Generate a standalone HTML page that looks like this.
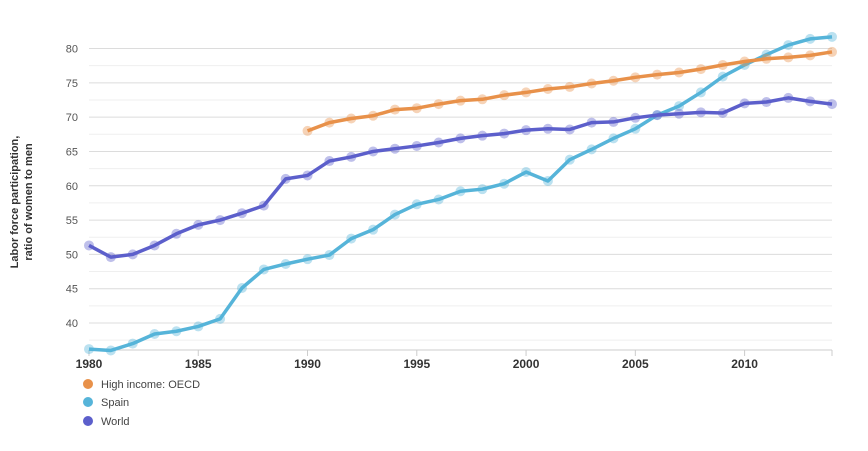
<!DOCTYPE html>
<html><head><meta charset="utf-8"><style>
body{margin:0;background:#fff;font-family:"Liberation Sans",sans-serif;}
svg text{font-family:"Liberation Sans",sans-serif;}
</style></head><body>
<svg id="chart" width="868" height="446" xmlns="http://www.w3.org/2000/svg">
<g id="grid"></g>
<g id="yticks"></g>
<g id="xticks"></g>
<text transform="translate(24,202) rotate(-90)" text-anchor="middle" font-size="11" font-weight="bold" fill="#333"><tspan x="0" dy="-6">Labor force participation,</tspan><tspan x="0" dy="14">ratio of women to men</tspan></text>
<g id="series"></g>
<g>
<g><circle cx="88" cy="384" r="5" fill="#e8914a"/><text x="101" y="388" font-size="11" fill="#444">High income: OECD</text></g>
<g><circle cx="88" cy="402" r="5" fill="#56b4d9"/><text x="101" y="406" font-size="11" fill="#444">Spain</text></g>
<g><circle cx="88" cy="421" r="5" fill="#5c5fcb"/><text x="101" y="425" font-size="11" fill="#444">World</text></g>
</g>
</svg>
<script>
const years=[];for(let y=1980;y<=2014;y++)years.push(y);
const world=[51.3,49.6,50.0,51.3,53.0,54.3,55.0,56.0,57.1,61.0,61.5,63.6,64.2,65.0,65.4,65.8,66.3,66.9,67.3,67.6,68.1,68.3,68.2,69.2,69.3,69.9,70.3,70.5,70.7,70.6,72.0,72.2,72.8,72.3,71.9];
const spain=[36.2,36.0,37.0,38.4,38.8,39.5,40.6,45.1,47.8,48.6,49.3,49.9,52.3,53.6,55.8,57.3,58.0,59.2,59.5,60.3,62.0,60.7,63.8,65.3,66.9,68.3,70.3,71.6,73.6,75.9,77.6,79.1,80.5,81.4,81.7];
const oecdYears=[];for(let y=1990;y<=2014;y++)oecdYears.push(y);
const oecd=[68.0,69.2,69.8,70.2,71.1,71.3,71.9,72.4,72.6,73.2,73.6,74.1,74.4,74.9,75.3,75.8,76.2,76.5,77.0,77.6,78.1,78.5,78.7,79.0,79.5];
const yTicks=[40,45,50,55,60,65,70,75,80];
const xTicks=[1980,1985,1990,1995,2000,2005,2010];
const NS='http://www.w3.org/2000/svg';
const X=y=>89+(y-1980)*(832-89)/34;
const Y=v=>48.5+(80-v)*(323-48.5)/40;
function mk(tag,at,parent){const e=document.createElementNS(NS,tag);for(const k in at)e.setAttribute(k,at[k]);parent.appendChild(e);return e;}
const grid=document.getElementById('grid'),yt=document.getElementById('yticks'),xt=document.getElementById('xticks'),ser=document.getElementById('series');
for(let v=37.5;v<=80;v+=2.5){const major=v%5===0;
 const l=mk('line',{x1:89,x2:832,y1:Y(v),y2:Y(v),stroke:major?'#dcdcdc':'#efefef','stroke-width':1},grid);
 
 }
yTicks.forEach(v=>{const t=mk('text',{x:78,y:Y(v)+4,'text-anchor':'end','font-size':11,fill:'#555'},yt);t.textContent=v;
 
 });
const ax=mk('line',{x1:89,x2:832,y1:350,y2:350,stroke:'#ccc'},xt);


xTicks.concat([2014]).forEach(y=>{mk('line',{x1:X(y),x2:X(y),y1:350,y2:356,stroke:'#ccc'},xt);});
xTicks.forEach(y=>{const t=mk('text',{x:X(y),y:368,'text-anchor':'middle','font-size':12,'font-weight':'bold',fill:'#333'},xt);t.textContent=y;
 
 });
function draw(xs,vs,color,name){const g=mk('g',{},ser);
 
 
 mk('polyline',{points:xs.map((x,i)=>X(x)+','+Y(vs[i])).join(' '),fill:'none',stroke:color,'stroke-width':3.5,'stroke-linejoin':'round'},g);
 xs.forEach((x,i)=>{const c=mk('circle',{cx:X(x),cy:Y(vs[i]),r:5,fill:color,'fill-opacity':0.4},g);
  
  });}
draw(years,spain,'#56b4d9','series-spain');
draw(years,world,'#5c5fcb','series-world');
draw(oecdYears,oecd,'#e8914a','series-oecd');
</script>
</body></html>
